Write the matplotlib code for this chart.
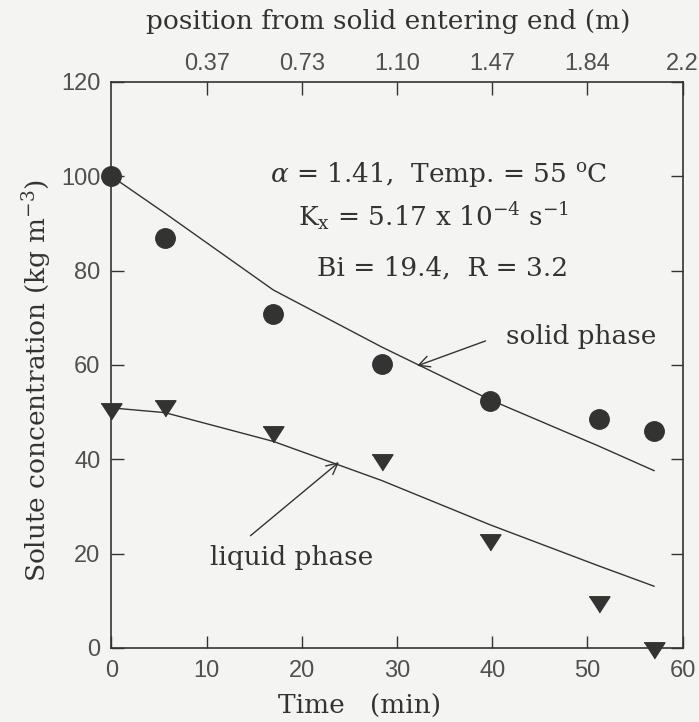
"""
Solute concentration in solid and liquid phase vs. time
"""

import matplotlib
matplotlib.use('Agg')
import matplotlib.pyplot as plt  # pylint: disable=import-error

# experimental points
time_exp = [0, 5.6, 17.0, 28.4, 39.8, 51.2, 57.0]
solid_exp = [100.0, 87.0, 70.9, 60.2, 52.4, 48.5, 45.9]
liquid_exp = [50.6, 51.2, 45.7, 39.9, 22.8, 9.7, 0.0]

# model curves
time_model = [0, 5.6, 17.0, 28.4, 39.8, 51.2, 57.0]
solid_model = [100.0, 92.2, 75.9, 63.8, 52.6, 42.8, 37.6]
liquid_model = [50.9, 49.9, 43.8, 35.5, 26.1, 17.4, 13.1]

# top axis
top_ticks = [10, 20, 30, 40, 50, 60]
top_labels = ['0.37', '0.73', '1.10', '1.47', '1.84', '2.2']

INK = '#333333'
TICK_INK = '#505050'
PAPER = '#f4f4f2'


def main():
    """
    Docstring
    """
    plt.rcParams['font.family'] = 'DejaVu Serif'
    plt.rcParams['mathtext.fontset'] = 'dejavuserif'
    plt.rcParams['text.color'] = INK
    plt.rcParams['axes.labelcolor'] = INK

    fig = plt.figure(figsize=(6.99, 7.22), dpi=100, facecolor=PAPER)
    ax = fig.add_axes([0.1595, 0.1025, 0.817, 0.784], facecolor=PAPER)

    ax.plot(time_model, solid_model, color=INK, lw=1.0)
    ax.plot(time_model, liquid_model, color=INK, lw=1.0)
    ax.plot(time_exp, solid_exp, 'o', color=INK, ms=14, clip_on=False)
    tri = [(-1.0, 0.55), (1.0, 0.55), (0.0, -1.0)]
    ax.plot(time_exp, liquid_exp, marker=tri, ls='none', color=INK, ms=15,
            clip_on=False)

    ax.set_xlim(0, 60)
    ax.set_ylim(0, 120)
    ax.set_xticks(range(0, 61, 10))
    ax.set_yticks(range(0, 121, 20))
    ax.tick_params(direction='in', length=9, width=1.0, color=INK,
                   labelcolor=TICK_INK, labelsize=17, right=True)
    ax.tick_params(axis='x', pad=9)
    ax.tick_params(axis='y', pad=8)
    for lab in ax.get_xticklabels() + ax.get_yticklabels():
        lab.set_family('Liberation Sans')
    for sp in ax.spines.values():
        sp.set_color(INK)
        sp.set_linewidth(1.2)

    ax.set_xlabel('Time   (min)', fontsize=19, va='center')
    ax.xaxis.set_label_coords(0.435, -0.104)
    ax.set_ylabel(r'Solute concentration (kg m$^{-3}$)', fontsize=19,
                  va='center')
    ax.yaxis.set_label_coords(-0.13, 0.473)

    top = ax.twiny()
    top.set_xlim(0, 60)
    top.set_xticks(top_ticks)
    top.set_xticklabels(top_labels, family='Liberation Sans')
    top.tick_params(direction='in', length=9, width=1.0, color=INK,
                    labelcolor=TICK_INK, labelsize=17, pad=5)
    top.set_xlabel('position from solid entering end (m)', fontsize=19,
                   va='center')
    top.xaxis.set_label_coords(0.484, 1.106)
    for sp in top.spines.values():
        sp.set_visible(False)

    ax.text(16.7, 98.8, r'$\alpha$ = 1.41,  Temp. = 55 $^{\rm o}$C', fontsize=19)
    ax.text(19.6, 89.6, r'K$_{\rm x}$ = 5.17 x 10$^{-4}$ s$^{-1}$', fontsize=19)
    ax.text(21.6, 78.9, 'Bi = 19.4,  R = 3.2', fontsize=19)

    arrow = dict(arrowstyle='->', color=INK, lw=1.0, shrinkA=0, shrinkB=0,
                 mutation_scale=20)
    ax.annotate('', xy=(32.1, 59.8), xytext=(39.3, 65.1), arrowprops=arrow)
    ax.text(49.4, 66.0, 'solid phase', fontsize=19, ha='center', va='center')
    ax.annotate('', xy=(23.9, 39.4), xytext=(14.6, 23.8), arrowprops=arrow)
    ax.text(18.9, 19.1, 'liquid phase', fontsize=19, ha='center', va='center')

    fig.savefig('out.png', dpi=100, facecolor=PAPER)


if __name__ == "__main__":
    main()
